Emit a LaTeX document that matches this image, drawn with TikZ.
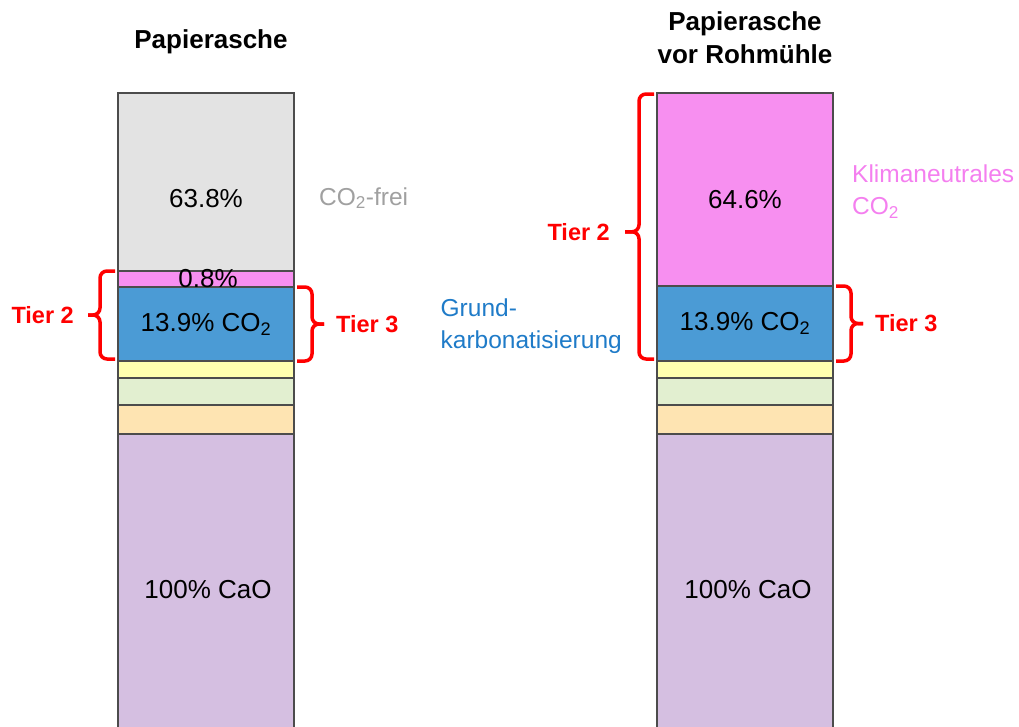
\documentclass[tikz,border=0pt]{standalone}
\usepackage{fontspec}
\setmainfont{Liberation Sans}
\usetikzlibrary{positioning,calc}

\definecolor{segGray}{HTML}{E3E3E3}
\definecolor{segPink}{HTML}{F78FF0}
\definecolor{segBlue}{HTML}{4B9BD5}
\definecolor{segYellow}{HTML}{FFFFAF}
\definecolor{segGreen}{HTML}{E2EFD0}
\definecolor{segOrange}{HTML}{FEE4B2}
\definecolor{segPurple}{HTML}{D5BFE1}
\definecolor{txtGray}{HTML}{A0A0A0}
\definecolor{txtPink}{HTML}{F47FEF}
\definecolor{txtBlue}{HTML}{1F7BC8}

\begin{document}
\begin{tikzpicture}[x=1pt,y=-1pt,
  seg/.style={draw=black!70,line width=1.2pt,minimum width=176pt,inner sep=0pt,outer sep=0pt},
  val/.style={font=\fontsize{26}{31}\selectfont},
  side/.style={font=\fontsize{24.5}{32}\selectfont,align=left,inner sep=0pt},
  title/.style={font=\fontsize{26}{33}\selectfont\bfseries,align=center,inner sep=0pt},
  tier/.style={font=\fontsize{23.5}{28}\selectfont\bfseries,text=red,inner sep=0pt},
  brk/.style={draw=red,line width=3.5pt,rounded corners=7pt}]
  \useasboundingbox (0,0) rectangle (1019,726);

  % left bar
  \node[seg,fill=segGray,minimum height=178pt,anchor=north west] (l1) at (118,93) {};
  \node[seg,fill=segPink,minimum height=16pt,below=0pt of l1]   (l2) {};
  \node[seg,fill=segBlue,minimum height=74pt,below=0pt of l2]   (l3) {};
  \node[seg,fill=segYellow,minimum height=17pt,below=0pt of l3] (l4) {};
  \node[seg,fill=segGreen,minimum height=27pt,below=0pt of l4]  (l5) {};
  \node[seg,fill=segOrange,minimum height=29pt,below=0pt of l5] (l6) {};
  \node[seg,fill=segPurple,minimum height=300pt,below=0pt of l6] (l7) {};

  % right bar
  \node[seg,fill=segPink,minimum height=193pt,anchor=north west] (r1) at (657,93) {};
  \node[seg,fill=segBlue,minimum height=75pt,below=0pt of r1]   (r2) {};
  \node[seg,fill=segYellow,minimum height=17pt,below=0pt of r2] (r3) {};
  \node[seg,fill=segGreen,minimum height=27pt,below=0pt of r3]  (r4) {};
  \node[seg,fill=segOrange,minimum height=29pt,below=0pt of r4] (r5) {};
  \node[seg,fill=segPurple,minimum height=300pt,below=0pt of r5] (r6) {};

  % values
  \node[val] (v1) at ($(l1)+(0,17)$) {63.8\%};
  \node[val] (v2) at ($(l2)+(2,0)$)  {0.8\%};
  \node[val] (v3) at (l3)            {13.9\% CO\textsubscript{2}};
  \node[val] (v4) at ($(l7)+(2,6)$)  {100\% CaO};
  \node[val] (v5) at ($(r1)+(0,10)$) {64.6\%};
  \node[val] (v6) at (r2)            {13.9\% CO\textsubscript{2}};
  \node[val] (v7) at ($(r6)+(3,6)$)  {100\% CaO};

  % titles
  \node[title] (t1) at ($(l1.north)+(5,-51)$) {Papierasche};
  \node[title] (t2) at ($(r1.north)+(0,-55)$) {Papierasche\\vor Rohmühle};

  % side texts
  \node[side,text=txtGray,anchor=west] (frei) at ($(l1.east)+(25,16)$) {CO\textsubscript{2}-frei};
  \node[side,text=txtPink,anchor=west] (klima) at ($(r1.east)+(19,2)$) {Klimaneutrales\\CO\textsubscript{2}};
  \node[side,text=txtBlue,anchor=east] (grund) at ($(r2.west)+(-35,3)$) {Grund-\\karbonatisierung};

  % brackets
  \coordinate (a1) at ($(l2.north west)+(-3,0)$);
  \coordinate (b1) at ($(l3.south west)+(-3,-2)$);
  \coordinate (m1) at ($(a1)!.5!(b1)+(-15,0)$);
  \coordinate (p1) at ($(a1)!.5!(b1)+(-27,0)$);
  \draw[brk] (a1) -| (m1) -- (p1);
  \draw[brk] (b1) -| (m1) -- (p1);
  \node[tier,left=14pt of p1] (tier2l) {Tier 2};

  \coordinate (a2) at ($(l3.north east)+(3,0)$);
  \coordinate (b2) at ($(l3.south east)+(3,0)$);
  \coordinate (m2) at ($(a2)!.5!(b2)+(15,0)$);
  \coordinate (p2) at ($(a2)!.5!(b2)+(27,0)$);
  \draw[brk] (a2) -| (m2) -- (p2);
  \draw[brk] (b2) -| (m2) -- (p2);
  \node[tier,right=12pt of p2] (tier3l) {Tier 3};

  \coordinate (a3) at ($(r1.north west)+(-3,1)$);
  \coordinate (b3) at ($(r2.south west)+(-3,-2)$);
  \coordinate (m3) at ($(a3)!.52!(b3)+(-15,0)$);
  \coordinate (p3) at ($(a3)!.52!(b3)+(-29,0)$);
  \draw[brk] (a3) -| (m3) -- (p3);
  \draw[brk] (b3) -| (m3) -- (p3);
  \node[tier,left=15pt of p3] (tier2r) {Tier 2};

  \coordinate (a4) at ($(r2.north east)+(3,0)$);
  \coordinate (b4) at ($(r2.south east)+(3,0)$);
  \coordinate (m4) at ($(a4)!.5!(b4)+(15,0)$);
  \coordinate (p4) at ($(a4)!.5!(b4)+(27,0)$);
  \draw[brk] (a4) -| (m4) -- (p4);
  \draw[brk] (b4) -| (m4) -- (p4);
  \node[tier,right=12pt of p4] (tier3r) {Tier 3};
\end{tikzpicture}
\end{document}
